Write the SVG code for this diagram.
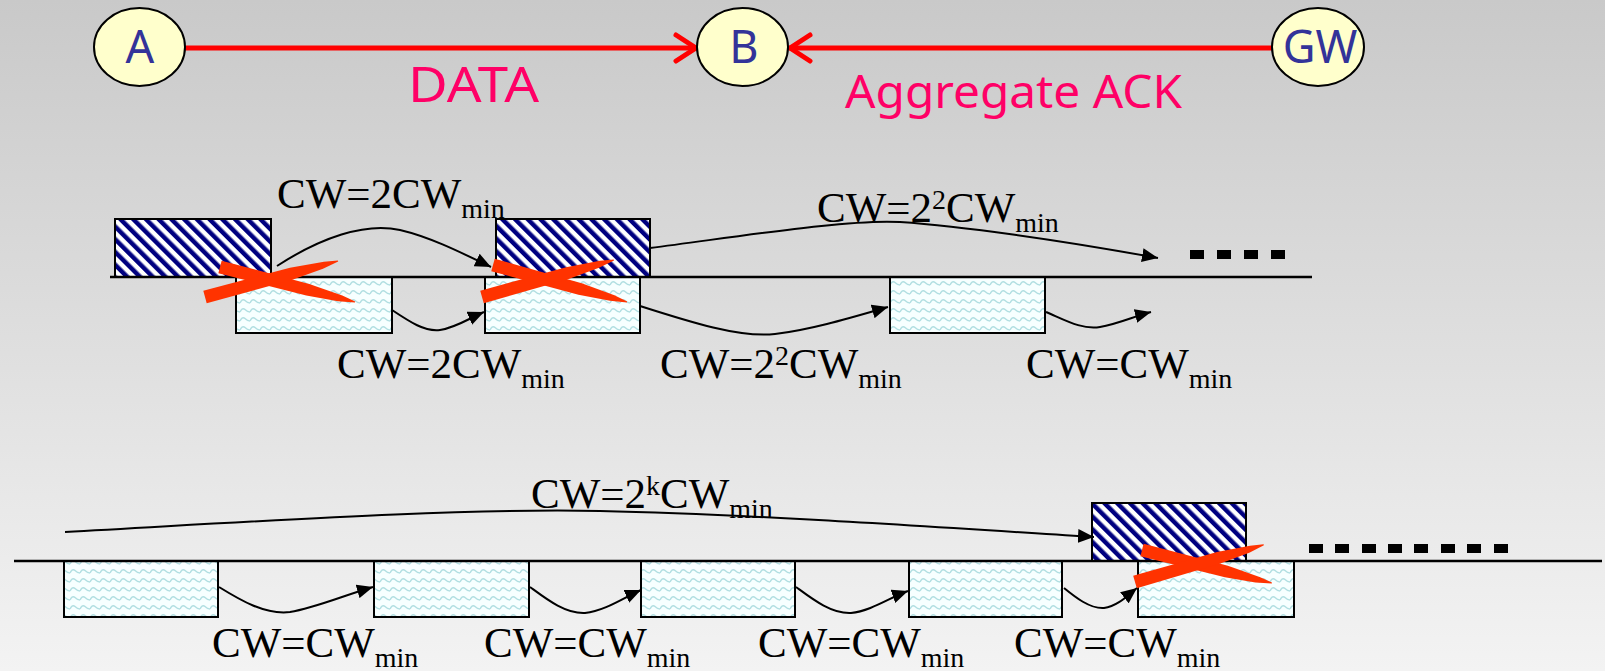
<svg xmlns="http://www.w3.org/2000/svg" xmlns:xlink="http://www.w3.org/1999/xlink" width="1605" height="671" viewBox="0 0 1605 671">
  <defs>
    <linearGradient id="bg" x1="0" y1="0" x2="0" y2="1">
      <stop offset="0" stop-color="#c9c9c9"/>
      <stop offset="1" stop-color="#f3f3f3"/>
    </linearGradient>
    <!-- diagonal navy hatch for transmitted frames -->
    <pattern id="hatch" patternUnits="userSpaceOnUse" width="9" height="9" patternTransform="rotate(-45)">
      <rect width="9" height="9" fill="#ffffff"/>
      <rect width="4.5" height="9" fill="#000080"/>
    </pattern>
    <!-- light wavy fill for backoff periods -->
    <pattern id="wave" patternUnits="userSpaceOnUse" width="10" height="9">
      <rect width="10" height="9" fill="#f7ffff"/>
      <path d="M0,6 Q2.5,1 5,3.5 T10,6" fill="none" stroke="#b2dfe2" stroke-width="1.4"/>
    </pattern>
    <marker id="head" markerUnits="userSpaceOnUse" markerWidth="18" markerHeight="14" refX="16" refY="7" orient="auto">
      <path d="M0,0 L16,7 L0,14 Z" fill="#000"/>
    </marker>
    <!-- tapered brush stroke, 100 units long -->
    <path id="brush" d="M0,-6.5 L65,-6 L90,-3 L100,-0.5 L100,0.5 L88,3.5 L65,6 L0,6.5 Z"/>
    <style>
      .node { fill: #ffffcc; stroke: #000; stroke-width: 2; }
      .nlabel { font-family: "Noto Sans", "DejaVu Sans", sans-serif; font-size: 45px; fill: #333399; text-anchor: middle; }
      .rlabel { font-family: "Noto Sans", "DejaVu Sans", sans-serif; fill: #ff0066; }
      .link { stroke: #ff0000; stroke-width: 5; fill: none; stroke-linecap: round; }
      .chev { stroke: #ff0000; stroke-width: 5; fill: none; stroke-linecap: round; stroke-linejoin: round; }
      .frame { fill: url(#hatch); stroke: #000; stroke-width: 2; }
      .backoff { fill: url(#wave); stroke: #000; stroke-width: 2; }
      .axis { stroke: #000; stroke-width: 2.5; }
      .arc { fill: none; stroke: #000; stroke-width: 2; marker-end: url(#head); }
      .cw { font-family: "Liberation Serif", "Times New Roman", serif; font-size: 43px; fill: #000; }
      .sub { font-size: 28px; }
      .dot { fill: #000; }
      .cross { fill: #ff3300; }
    </style>
  </defs>

  <rect width="1605" height="671" fill="url(#bg)"/>

  <!-- topology: A -> B <- GW -->
  <g id="connectors-top">
    <line class="link" x1="185" y1="48" x2="696" y2="48"/>
    <polyline class="chev" points="676,35 696,48 676,61"/>
    <line class="link" x1="1272" y1="48" x2="790" y2="48"/>
    <polyline class="chev" points="810,35 790,48 810,61"/>
  </g>
  <g id="node-A">
    <ellipse class="node" cx="139.5" cy="47" rx="45.5" ry="39"/>
    <text class="nlabel" x="140" y="63">A</text>
  </g>
  <g id="node-B">
    <ellipse class="node" cx="742.5" cy="47" rx="45.5" ry="39"/>
    <text class="nlabel" x="744" y="63">B</text>
  </g>
  <g id="node-GW">
    <ellipse class="node" cx="1318" cy="47" rx="46" ry="39"/>
    <text class="nlabel" x="1320" y="63">GW</text>
  </g>
  <g id="link-labels">
    <text class="rlabel" x="408" y="102" font-size="50" textLength="131" lengthAdjust="spacingAndGlyphs">DATA</text>
    <text class="rlabel" x="845" y="108" font-size="45" textLength="337" lengthAdjust="spacingAndGlyphs">Aggregate ACK</text>
  </g>

  <!-- first timeline: collisions double the contention window -->
  <g id="timeline-1">
    <rect class="frame" x="115" y="219" width="156" height="58"/>
    <rect class="frame" x="496" y="219" width="154" height="58"/>
    <rect class="backoff" x="236" y="277" width="156" height="56"/>
    <rect class="backoff" x="485" y="277" width="155" height="56"/>
    <rect class="backoff" x="890" y="277" width="155" height="56"/>
    <line class="axis" x1="110" y1="277" x2="1312" y2="277"/>
    <rect class="dot" x="1190" y="250" width="14" height="9"/>
    <rect class="dot" x="1217" y="250" width="14" height="9"/>
    <rect class="dot" x="1244" y="250" width="14" height="9"/>
    <rect class="dot" x="1271" y="250" width="14" height="9"/>
    <g class="cross">
      <use xlink:href="#brush" transform="translate(220,267) rotate(14.5) scale(1.395,1)"/>
      <use xlink:href="#brush" transform="translate(205,297) rotate(-15.1) scale(1.378,1)"/>
      <use xlink:href="#brush" transform="translate(493,265) rotate(15.4) scale(1.39,1)"/>
      <use xlink:href="#brush" transform="translate(482,297) rotate(-15.7) scale(1.37,1)"/>
    </g>
    <text class="cw" x="277" y="208">CW=2CW<tspan class="sub" dy="10">min</tspan></text>
    <text class="cw" x="817" y="222">CW=2<tspan class="sub" dy="-13">2</tspan><tspan dy="13">CW</tspan><tspan class="sub" dy="10">min</tspan></text>
    <text class="cw" x="337" y="378">CW=2CW<tspan class="sub" dy="10">min</tspan></text>
    <text class="cw" x="660" y="378">CW=2<tspan class="sub" dy="-13">2</tspan><tspan dy="13">CW</tspan><tspan class="sub" dy="10">min</tspan></text>
    <text class="cw" x="1026" y="378">CW=CW<tspan class="sub" dy="10">min</tspan></text>
  </g>

  <!-- second timeline: backoff reset until the k-th attempt -->
  <g id="timeline-2">
    <rect class="frame" x="1092" y="503" width="154" height="58"/>
    <rect class="backoff" x="64" y="561" width="154" height="56"/>
    <rect class="backoff" x="374" y="561" width="155" height="56"/>
    <rect class="backoff" x="641" y="561" width="154" height="56"/>
    <rect class="backoff" x="909" y="561" width="153" height="56"/>
    <rect class="backoff" x="1138" y="561" width="156" height="56"/>
    <line class="axis" x1="14" y1="561" x2="1602" y2="561"/>
    <rect class="dot" x="1309" y="544" width="14" height="9"/>
    <rect class="dot" x="1335" y="544" width="14" height="9"/>
    <rect class="dot" x="1362" y="544" width="14" height="9"/>
    <rect class="dot" x="1388" y="544" width="14" height="9"/>
    <rect class="dot" x="1414" y="544" width="14" height="9"/>
    <rect class="dot" x="1441" y="544" width="14" height="9"/>
    <rect class="dot" x="1467" y="544" width="14" height="9"/>
    <rect class="dot" x="1494" y="544" width="14" height="9"/>
    <g class="cross">
      <use xlink:href="#brush" transform="translate(1142,550) rotate(14.3) scale(1.34,1)"/>
      <use xlink:href="#brush" transform="translate(1135,582) rotate(-16.1) scale(1.34,1)"/>
    </g>
    <text class="cw" x="531" y="508">CW=2<tspan class="sub" dy="-13">k</tspan><tspan dy="13">CW</tspan><tspan class="sub" dy="10">min</tspan></text>
    <text class="cw" x="212" y="657">CW=CW<tspan class="sub" dy="10">min</tspan></text>
    <text class="cw" x="484" y="657">CW=CW<tspan class="sub" dy="10">min</tspan></text>
    <text class="cw" x="758" y="657">CW=CW<tspan class="sub" dy="10">min</tspan></text>
    <text class="cw" x="1014" y="657">CW=CW<tspan class="sub" dy="10">min</tspan></text>
  </g>

  <g id="connectors">
    <path class="arc" d="M277,266 C320,238 365,222 400,230 C430,237 460,252 491,267"/>
    <path class="arc" d="M650,248 C750,235 850,219 900,222 C960,226 1060,240 1158,258"/>
    <path class="arc" d="M392,310 C410,322 425,332 440,330 C455,328 470,318 484,312"/>
    <path class="arc" d="M640,306 C690,322 740,338 775,334 C810,330 850,318 888,307"/>
    <path class="arc" d="M1046,312 C1065,320 1082,330 1100,327 C1118,324 1135,316 1151,312"/>
    <path class="arc" d="M65,532 C250,522 450,508 600,511 C750,514 950,528 1094,537"/>
    <path class="arc" d="M219,587 C240,600 265,615 290,612 C315,608 345,595 373,587"/>
    <path class="arc" d="M530,587 C545,598 565,614 585,613 C605,611 625,597 641,590"/>
    <path class="arc" d="M796,587 C811,598 831,614 851,613 C871,611 891,597 908,591"/>
    <path class="arc" d="M1064,588 C1075,597 1090,609 1104,608 C1118,606 1128,595 1137,588"/>
  </g>
</svg>
